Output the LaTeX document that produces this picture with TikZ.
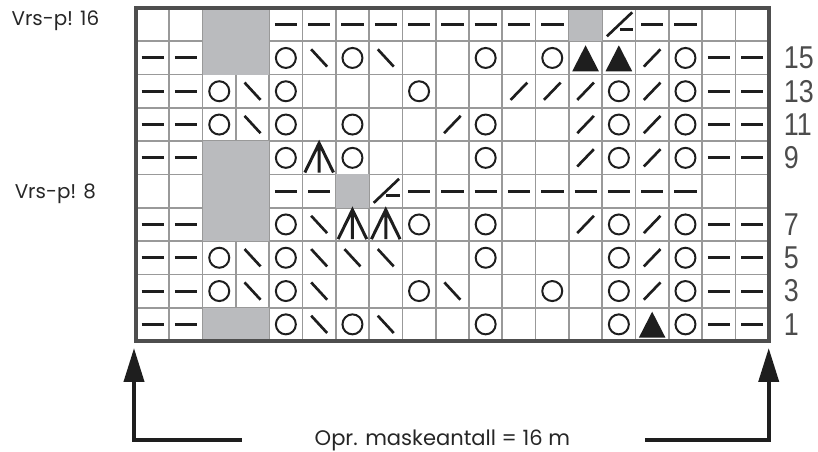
\documentclass[tikz,border=0pt]{standalone}
\usepackage{fontspec}
\setmainfont{Poppins}
\newfontfamily\rownumfont{Liberation Sans}
\usetikzlibrary{arrows.meta}
\definecolor{nostitch}{RGB}{186,187,190}
\definecolor{ink}{RGB}{30,30,30}
\definecolor{frameline}{RGB}{78,78,78}

\begin{document}
\begin{tikzpicture}[
    sym/.style={draw=ink, line width=0.08cm},
    gridline/.style={draw=black!40, line width=0.05cm},
    frame/.style={draw=frameline, line width=0.12cm},
    feed/.style={-{Triangle[length=1.02cm, width=0.6cm]}, draw=ink,
                 line width=0.12cm},
    rowlabel/.style={anchor=west, inner sep=0pt, text=black!70,
                     xscale=0.85, transform shape,
                     font=\rownumfont\fontsize{27}{27}\selectfont},
    note/.style={inner sep=0pt, text=black!85,
                 font=\fontsize{17}{17}\selectfont},
    pics/purl/.style={code={\draw[sym, line width=0.09cm] (-0.33,0) -- (0.34,0);}},
    pics/yo/.style={code={\draw[sym, line width=0.06cm] (0,0) circle (0.3);}},
    pics/ssk/.style={code={\draw[sym] (-0.24,0.26) -- (0.24,-0.26);}},
    pics/ktog/.style={code={\draw[sym] (-0.25,-0.26) -- (0.25,0.26);}},
    pics/cdd/.style={code={\draw[sym, line width=0.09cm]
                     (-0.43,-0.44) -- (0,0.44) -- (0.43,-0.44) (0,0.44) -- (0,-0.44);}},
    pics/tri/.style={code={\fill[ink] (-0.4,-0.4) -- (0.4,-0.4) -- (0,0.38) -- cycle;}},
    pics/bindoff/.style={code={\draw[sym] (-0.36,-0.35) -- (0.4,0.37);
                         \draw[sym] (0.02,-0.14) -- (0.42,-0.14);}}
  ]
  \useasboundingbox (-4.084,-3.333) rectangle (20.48,10.24);
  % Chart grid and no-stitch cells
  \draw[gridline] (0,0) grid (19,10);
  \foreach \a/\b in {{2,8}/{4,10},{2,3}/{4,6},{2,0}/{4,1},{13,9}/{14,10},{6,4}/{7,5}} {
    \fill[nostitch] (\a) rectangle (\b);
  }
  % Symbols, row by row (column/symbol)
  \foreach \y/\cells in {
      9.5/{5/purl,6/purl,7/purl,8/purl,9/purl,10/purl,11/purl,12/purl,13/purl,
           15/bindoff,16/purl,17/purl},
      8.5/{1/purl,2/purl,5/yo,6/ssk,7/yo,8/ssk,11/yo,13/yo,14/tri,15/tri,
           16/ktog,17/yo,18/purl,19/purl},
      7.5/{1/purl,2/purl,3/yo,4/ssk,5/yo,9/yo,12/ktog,13/ktog,14/ktog,15/yo,
           16/ktog,17/yo,18/purl,19/purl},
      6.5/{1/purl,2/purl,3/yo,4/ssk,5/yo,7/yo,10/ktog,11/yo,14/ktog,15/yo,
           16/ktog,17/yo,18/purl,19/purl},
      5.5/{1/purl,2/purl,5/yo,6/cdd,7/yo,11/yo,14/ktog,15/yo,16/ktog,17/yo,
           18/purl,19/purl},
      4.5/{5/purl,6/purl,8/bindoff,9/purl,10/purl,11/purl,12/purl,13/purl,
           14/purl,15/purl,16/purl,17/purl},
      3.5/{1/purl,2/purl,5/yo,6/ssk,7/cdd,8/cdd,9/yo,11/yo,14/ktog,15/yo,
           16/ktog,17/yo,18/purl,19/purl},
      2.5/{1/purl,2/purl,3/yo,4/ssk,5/yo,6/ssk,7/ssk,8/ssk,11/yo,15/yo,
           16/ktog,17/yo,18/purl,19/purl},
      1.5/{1/purl,2/purl,3/yo,4/ssk,5/yo,6/ssk,9/yo,10/ssk,13/yo,15/yo,
           16/ktog,17/yo,18/purl,19/purl},
      0.5/{1/purl,2/purl,5/yo,6/ssk,7/yo,8/ssk,11/yo,15/yo,16/tri,17/yo,
           18/purl,19/purl}} {
    \foreach \c/\s in \cells {
      \pic at (\c-0.5,\y) {\s};
    }
  }
  \draw[frame] (0,0) rectangle (19,10);
  % Row numbers and wrong-side notes
  \foreach \n/\y in {15/8.5,13/7.5,11/6.5,9/5.5,7/3.5,5/2.5,3/1.5,1/0.5} {
    \node[rowlabel] (row\n) at (19.45,\y) {\n};
  }
  \node[note, anchor=base] (ws16) at (-2.42,9.46) {Vrs-p! 16};
  \node[note, anchor=base] (ws8) at (-2.42,4.28) {Vrs-p! 8};
  % Cast-on arrows
  \node[note, anchor=base, font=\fontsize{18}{18}\selectfont] (caston) at (9.2,-3.15)
    {Opr. maskeantall = 16 m};
  \coordinate (ltip) at (-0.06,-0.21);
  \coordinate (lcorner) at (-0.06,-2.97);
  \coordinate (lend) at (3.18,-2.97);
  \coordinate (rtip) at (19.0,-0.21);
  \coordinate (rcorner) at (19.0,-2.97);
  \coordinate (rend) at (15.29,-2.97);
  \draw[feed] (lend) -- (lcorner) -- (ltip);
  \draw[feed] (rend) -- (rcorner) -- (rtip);
\end{tikzpicture}
\end{document}
